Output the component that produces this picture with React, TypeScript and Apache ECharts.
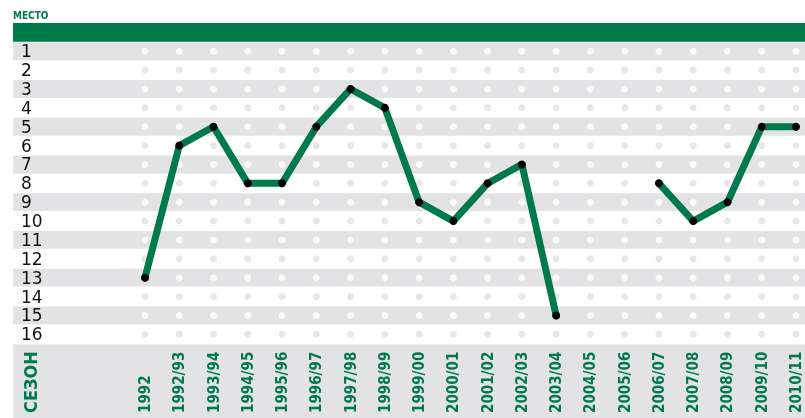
import React, { useEffect, useRef } from "react";
import * as echarts from "echarts";

const seasons = [
  "1992", "1992/93", "1993/94", "1994/95", "1995/96", "1996/97", "1997/98",
  "1998/99", "1999/00", "2000/01", "2001/02", "2002/03", "2003/04", "2004/05",
  "2005/06", "2006/07", "2007/08", "2008/09", "2009/10", "2010/11",
];
const places: (number | null)[] = [
  13, 6, 5, 8, 8, 5, 3, 4, 9, 10, 8, 7, 15, null, null, 8, 10, 9, 5, 5,
];
const rankTicks = [1, 2, 3, 4, 5, 6, 7, 8, 9, 10, 11, 12, 13, 14, 15, 16];
const yTitle = "МЕСТО";
const xTitle = "СЕЗОН";

const GREEN = "#007a4b";
const BAND = "#e3e3e5";
const DOT_ON_WHITE = "#e1e1e3";
const NARROW = "'DejaVu Sans Condensed', 'DejaVu Sans', sans-serif";

export default function App() {
  const ref = useRef<HTMLDivElement>(null);
  useEffect(() => {
    document.body.style.margin = "0";
    const chart = echarts.init(ref.current!, null, { renderer: "svg" });
    const gridPoints: any[] = [];
    seasons.forEach((s) => {
      rankTicks.forEach((r) => {
        gridPoints.push({
          value: [s, r],
          itemStyle: { color: r % 2 === 1 ? "#ffffff" : DOT_ON_WHITE },
        });
      });
    });
    chart.setOption({
      animation: false,
      grid: { left: 145, right: 9, top: 51.2, bottom: 418 - 334.3 },
      xAxis: {
        type: "category",
        data: seasons,
        boundaryGap: false,
        axisLine: { show: false },
        axisTick: { show: false },
        splitLine: { show: false },
        axisLabel: {
          interval: 0,
          rotate: 90,
          align: "left",
          verticalAlign: "middle",
          margin: 413 - 334.3,
          color: GREEN,
          fontFamily: NARROW,
          fontWeight: "bold",
          fontSize: 15,
        },
      },
      yAxis: {
        type: "value",
        inverse: true,
        min: 1,
        max: 16,
        interval: 1,
        axisLine: { show: false },
        axisTick: { show: false },
        splitLine: { show: false },
        axisLabel: {
          align: "left",
          margin: 145 - 21,
          color: "#111",
          fontFamily: "'DejaVu Sans', sans-serif",
          fontSize: 17,
          padding: [4, 0, 0, 0],
        },
      },
      series: [
        {
          type: "scatter",
          data: gridPoints,
          symbolSize: 7,
          z: 1,
          silent: true,
        },
        {
          type: "line",
          data: places,
          z: 3,
          connectNulls: false,
          lineStyle: { color: GREEN, width: 7, cap: "round", join: "round" },
          symbol: "circle",
          symbolSize: 8,
          showSymbol: true,
          itemStyle: { color: "#000", borderWidth: 0 },
        },
      ],
    });

    const yPix = (v: number) => chart.convertToPixel({ yAxisIndex: 0 }, v) as number;
    const step = yPix(rankTicks[1]) - yPix(rankTicks[0]);
    const half = step / 2;
    const W = 805;
    const H = 418;
    const rects: any[] = [];
    const headerTop = yPix(rankTicks[0]) - step - half;
    rects.push({
      type: "rect",
      z: -10,
      silent: true,
      shape: { x: 13, y: headerTop, width: W - 13, height: step },
      style: { fill: GREEN },
    });
    rankTicks.forEach((r) => {
      if (r % 2 === 1) {
        const c = yPix(r);
        rects.push({
          type: "rect",
          z: -10,
          silent: true,
          shape: { x: 13, y: c - half + 0.5, width: W - 13, height: step - 1 },
          style: { fill: BAND },
        });
      }
    });
    const lastBottom = yPix(rankTicks[rankTicks.length - 1]) + half + 0.5;
    rects.push({
      type: "rect",
      z: -10,
      silent: true,
      shape: { x: 13, y: lastBottom, width: W - 13, height: H - lastBottom },
      style: { fill: BAND },
    });
    rects.push({
      type: "text",
      z: 5,
      x: 13,
      y: headerTop - 2,
      style: {
        text: yTitle,
        fill: GREEN,
        font: `bold 10px ${NARROW}`,
        textAlign: "left",
        textVerticalAlign: "bottom",
      },
    });
    rects.push({
      type: "text",
      z: 5,
      x: 30,
      y: 413,
      rotation: Math.PI / 2,
      style: {
        text: xTitle,
        fill: GREEN,
        font: `bold 18px ${NARROW}`,
        textAlign: "left",
        textVerticalAlign: "middle",
      },
    });
    chart.setOption({ graphic: rects });
    return () => chart.dispose();
  }, []);
  return (
    <div
      ref={ref}
      style={{ position: "fixed", left: 0, top: 0, width: 805, height: 418 }}
    />
  );
}
